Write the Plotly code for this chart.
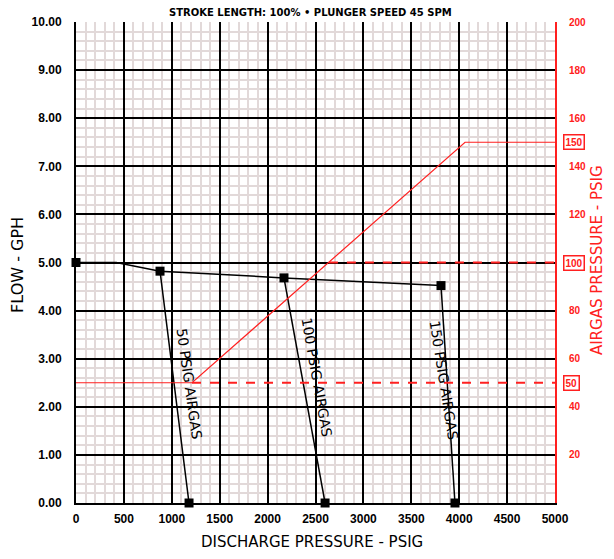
import plotly.graph_objects as go

# ---- data ----
flow_curve_x = [0, 420, 877, 2171, 3810]
flow_curve_y = [5.0, 5.0, 4.82, 4.68, 4.52]

drop_50_x = [877, 1180]
drop_50_y = [4.82, 0.0]
drop_100_x = [2171, 2600]
drop_100_y = [4.68, 0.0]
drop_150_x = [3810, 3956]
drop_150_y = [4.52, 0.0]

marker_x = [0, 877, 2171, 3810, 1180, 2600, 3956]
marker_y = [5.0, 4.82, 4.68, 4.52, 0.0, 0.0, 0.0]

airgas_x = [0, 1211, 4061, 5000]
airgas_y = [50, 50, 150, 150]
dash50_x = [1211, 5000]
dash50_y = [50, 50]
dash100_x = [2640, 5000]
dash100_y = [100, 100]

curve_labels = ["50 PSIG AIRGAS", "100 PSIG AIRGAS", "150 PSIG AIRGAS"]
curve_label_x = [1150, 2484, 3810]
curve_label_y = [2.47, 2.6, 2.56]
curve_label_angle = [82, 80, 81]

x_ticks = [0, 500, 1000, 1500, 2000, 2500, 3000, 3500, 4000, 4500, 5000]
y_ticks = [0, 1, 2, 3, 4, 5, 6, 7, 8, 9, 10]
y_ticklabels = ["0.00", "1.00", "2.00", "3.00", "4.00", "5.00", "6.00", "7.00", "8.00", "9.00", "10.00"]
y2_ticks = [20, 40, 60, 80, 120, 140, 160, 180, 200]
y2_circled = [50, 100, 150]

title_text = "STROKE LENGTH: 100% • PLUNGER SPEED 45 SPM"
x_title = "DISCHARGE PRESSURE - PSIG"
y_title = "FLOW - GPH"
y2_title = "AIRGAS PRESSURE - PSIG"

RED = "#ff2020"
FONT = "Liberation Sans"
TFONT = "DejaVu Sans"

fig = go.Figure()

fig.add_trace(go.Scatter(x=flow_curve_x, y=flow_curve_y, mode="lines",
                         line=dict(color="black", width=1.5), showlegend=False))
for xs, ys in [(drop_50_x, drop_50_y), (drop_100_x, drop_100_y), (drop_150_x, drop_150_y)]:
    fig.add_trace(go.Scatter(x=xs, y=ys, mode="lines",
                             line=dict(color="black", width=1.5), showlegend=False))
fig.add_trace(go.Scatter(x=marker_x, y=marker_y, mode="markers",
                         marker=dict(symbol="square", size=9, color="black"),
                         cliponaxis=False, showlegend=False))

fig.add_trace(go.Scatter(x=airgas_x, y=airgas_y, mode="lines", yaxis="y2",
                         line=dict(color=RED, width=1.2), showlegend=False))
fig.add_trace(go.Scatter(x=dash50_x, y=dash50_y, mode="lines", yaxis="y2",
                         line=dict(color=RED, width=2, dash="dash"), showlegend=False))
fig.add_trace(go.Scatter(x=dash100_x, y=dash100_y, mode="lines", yaxis="y2",
                         line=dict(color=RED, width=2, dash="dash"), showlegend=False))

annotations = []
for t, x, y, a in zip(curve_labels, curve_label_x, curve_label_y, curve_label_angle):
    annotations.append(dict(x=x, y=y, xref="x", yref="y", text=t, showarrow=False,
                            textangle=a, xshift=3,
                            font=dict(family=TFONT, size=14, color="black")))
for v in y2_circled:
    annotations.append(dict(x=1.0, y=v, xref="paper", yref="y2", text="<b>" + str(v) + "</b>",
                            showarrow=False, xanchor="left", xshift=8,
                            font=dict(family=FONT, size=10, color=RED),
                            bordercolor=RED, borderwidth=1.5, borderpad=1, bgcolor="white"))
annotations.append(dict(x=0.49, y=1, xref="paper", yref="paper", yanchor="middle", yshift=10,
                        text="<b>" + title_text + "</b>", showarrow=False,
                        font=dict(family=TFONT, size=10, color="black")))
annotations.append(dict(x=0.493, y=0, xref="paper", yref="paper", yanchor="middle", yshift=-39,
                        text=x_title, showarrow=False, font=dict(family=TFONT, size=15, color="black")))
annotations.append(dict(x=0, y=0.495, xref="paper", yref="paper", xanchor="center", xshift=-58,
                        text=y_title, textangle=-90, showarrow=False,
                        font=dict(family=TFONT, size=16, color="black")))
annotations.append(dict(x=1, y=0.505, xref="paper", yref="paper", xanchor="center", xshift=42,
                        text=y2_title, textangle=-90, showarrow=False,
                        font=dict(family=TFONT, size=15, color=RED)))

fig.update_layout(
    width=598, height=543,
    margin=dict(l=68, r=51, t=14, b=48),
    paper_bgcolor="white", plot_bgcolor="white",
    font=dict(family=FONT, color="black"),
    xaxis=dict(range=[0, 5000], tickvals=x_ticks, showgrid=True, gridcolor="black", gridwidth=2,
               minor=dict(dtick=100, showgrid=True, gridcolor="#e2d9d9", gridwidth=2),
               showline=True, linecolor="black", linewidth=2, zeroline=False, automargin=False,
               tickfont=dict(family=FONT, size=12, weight="bold"), ticks="",
               ticklabelstandoff=4),
    yaxis=dict(range=[0, 10], tickvals=y_ticks, ticktext=y_ticklabels, showgrid=True,
               gridcolor="black", gridwidth=2,
               minor=dict(dtick=0.2, showgrid=True, gridcolor="#e2d9d9", gridwidth=2),
               showline=True, linecolor="black", linewidth=2, zeroline=False, automargin=False,
               tickfont=dict(family=FONT, size=12, weight="bold"), ticks="",
               ticklabelstandoff=10),
    yaxis2=dict(range=[0, 200], overlaying="y", side="right", tickvals=y2_ticks,
                showgrid=False, zeroline=False, showline=True, linecolor=RED, linewidth=2,
                automargin=False,
                tickfont=dict(family=FONT, size=10, color=RED, weight="bold"), ticks="",
                ticklabelstandoff=10),
    annotations=annotations,
)

fig.write_html("out.html")
